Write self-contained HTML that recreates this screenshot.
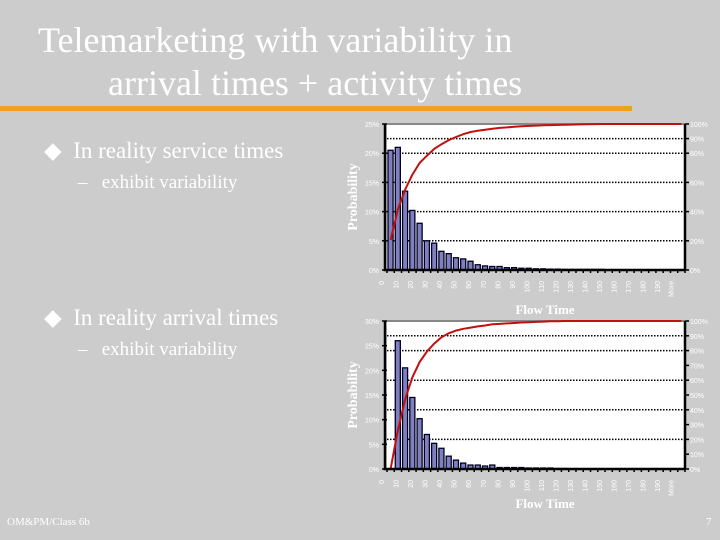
<!DOCTYPE html>
<html><head><meta charset="utf-8"><style>
body{margin:0;background:#cccccc;}
#slide{position:relative;width:720px;height:540px;overflow:hidden;background:#cccccc;font-family:"Liberation Serif",serif;color:#fff;}
.t{position:absolute;white-space:nowrap;}
</style></head><body>
<div id="slide">
<div class="t" style="left:38px;top:19px;font-size:36px;">Telemarketing with variability in</div>
<div class="t" style="left:108px;top:62px;font-size:36px;">arrival times + activity times</div>
<div style="position:absolute;left:0;top:106px;width:632px;height:5px;background:#f0a020;"></div>
<div class="t" style="left:44px;top:138px;font-size:23px;">&#9670;&nbsp; In reality service times</div>
<div class="t" style="left:78px;top:172px;font-size:19px;">–&nbsp;&nbsp; exhibit variability</div>
<div class="t" style="left:44px;top:305px;font-size:23px;">&#9670;&nbsp; In reality arrival times</div>
<div class="t" style="left:78px;top:339px;font-size:19px;">–&nbsp;&nbsp; exhibit variability</div>
<div class="t" style="left:7px;top:516px;font-size:11px;">OM&amp;PM/Class 6b</div>
<div class="t" style="left:706px;top:516px;font-size:11px;">7</div>
<svg id="svg" width="720" height="540" style="position:absolute;left:0;top:0" xmlns="http://www.w3.org/2000/svg"></svg>
</div>
<script>
const topValues = [20.5,21,13.5,10.2,8,5,4.6,3.2,2.8,2.1,1.9,1.5,0.9,0.7,0.6,0.6,0.4,0.4,0.3,0.3,0.2,0.2,0.15,0.15,0.1,0.1,0.1,0.1,0.1,0.1,0,0,0,0,0,0,0,0,0,0,0];
const bottomValues = [0,26,20.5,14.5,10.2,7,5.2,4.2,2.6,1.8,1.2,0.8,0.8,0.6,0.8,0.3,0.3,0.3,0.3,0.2,0.2,0.2,0.2,0.1,0.1,0,0,0,0,0,0,0,0,0,0,0,0,0,0,0,0];
const xTickLabels = ["0","10","20","30","40","50","60","70","80","90","100","110","120","130","140","150","160","170","180","190","More"];
const topLeftTicks = [0,5,10,15,20,25];
const topRightTicks = [0,20,40,60,80,90,100];
const bottomLeftTicks = [0,5,10,15,20,25,30];
const bottomRightTicks = [0,10,20,30,40,50,60,70,80,90,100];
const topGrid = [20,40,60,80,90];
const bottomGrid = [20,40,60,80,90];

const NS="http://www.w3.org/2000/svg";
const svg=document.getElementById('svg');
function mk(tag,attrs,parent){const e=document.createElementNS(NS,tag);for(const k in attrs)e.setAttribute(k,attrs[k]);(parent||svg).appendChild(e);return e;}

function chart(prefix,vals,leftMax,leftTicks,rightTicks,grid,y0,y1,xLabelY,titleY){
  const x0=387,x1=685,n=vals.length,step=(x1-x0)/n;
  const xs=i=>x0+i*step;
  const yl=v=>y1-(v/leftMax)*(y1-y0);
  const yr=v=>y1-(v/100)*(y1-y0);
  const g=mk('g',{});
  
  
  const bg=mk('rect',{x:x0,y:y0,width:x1-x0,height:y1-y0,fill:'#fff'},g);
  
  
  grid.forEach(v=>{const l=mk('line',{x1:x0,x2:x1,y1:yr(v),y2:yr(v),stroke:'#000','stroke-width':1.5,'stroke-dasharray':'1.5,1.5'},g);
    
    });
  const tl=mk('line',{x1:x0,x2:x1,y1:y0,y2:y0,stroke:'#888','stroke-width':2},g);
  
  
  vals.forEach((v,i)=>{if(v<=0)return;const bx=xs(i)+1,bw=step-2.2,by=yl(v);
    const r=mk('rect',{x:bx,y:by,width:bw,height:y1-by,fill:'#8080c0',stroke:'#000020','stroke-width':1.3},g);
    
    });
  const tot=vals.reduce((a,b)=>a+b,0);let c=0;const pts=[];
  vals.forEach((v,i)=>{c+=v;pts.push((xs(i)+step/2).toFixed(1)+','+yr(c/tot*100).toFixed(1));});
  const pl=mk('polyline',{points:pts.join(' '),fill:'none',stroke:'#c01010','stroke-width':2},g);
  
  
  const ax=mk('path',{d:`M${x0-2},${y0} V${y1} H${x1} M${x1},${y0} V${y1}`,stroke:'#000','stroke-width':2.5,fill:'none'},g);
  
  
  for(let i=0;i<=n;i++){const t=mk('line',{x1:xs(i),x2:xs(i),y1:y1,y2:y1+3,stroke:'#000','stroke-width':1.5},g);
    
    }
  leftTicks.forEach(v=>{const t=mk('text',{x:x0-8,y:yl(v)+3,'text-anchor':'end','font-size':7,fill:'#fff','font-family':'Liberation Sans,sans-serif'},g);t.textContent=v+'%';
    
    
    mk('line',{x1:x0-5,x2:x0,y1:yl(v),y2:yl(v),stroke:'#000','stroke-width':1.5},g);});
  rightTicks.forEach(v=>{const t=mk('text',{x:x1+5,y:yr(v)+3,'font-size':7,fill:'#fff','font-family':'Liberation Sans,sans-serif'},g);t.textContent=v+'%';
    
    
    mk('line',{x1:x1,x2:x1+4,y1:yr(v),y2:yr(v),stroke:'#000','stroke-width':1.5},g);});
  xTickLabels.forEach((s,k)=>{const idx=k===20?n-1:2*k;const x=xs(idx)-3+(k===20?-1:0);
    const t=mk('text',{x:x,y:xLabelY,'text-anchor':'end','font-size':7,fill:'#fff','font-family':'Liberation Sans,sans-serif',transform:`rotate(-90 ${x} ${xLabelY})`},g);
    t.textContent=s;
    
    });
  const yt=mk('text',{x:357,y:(y0+y1)/2,'text-anchor':'middle','font-size':14,'font-weight':'bold',fill:'#fff',transform:`rotate(-90 357 ${(y0+y1)/2})`},g);
  yt.textContent='Probability';
  
  
  const xt=mk('text',{x:545,y:titleY,'text-anchor':'middle','font-size':13,'font-weight':'bold',fill:'#fff'},g);
  xt.textContent='Flow Time';
  
  
}
chart('top-chart',topValues,25,topLeftTicks,topRightTicks,topGrid,124,270,281,314);
chart('bottom-chart',bottomValues,30,bottomLeftTicks,bottomRightTicks,bottomGrid,321,469,480,508);
</script>
</body></html>
